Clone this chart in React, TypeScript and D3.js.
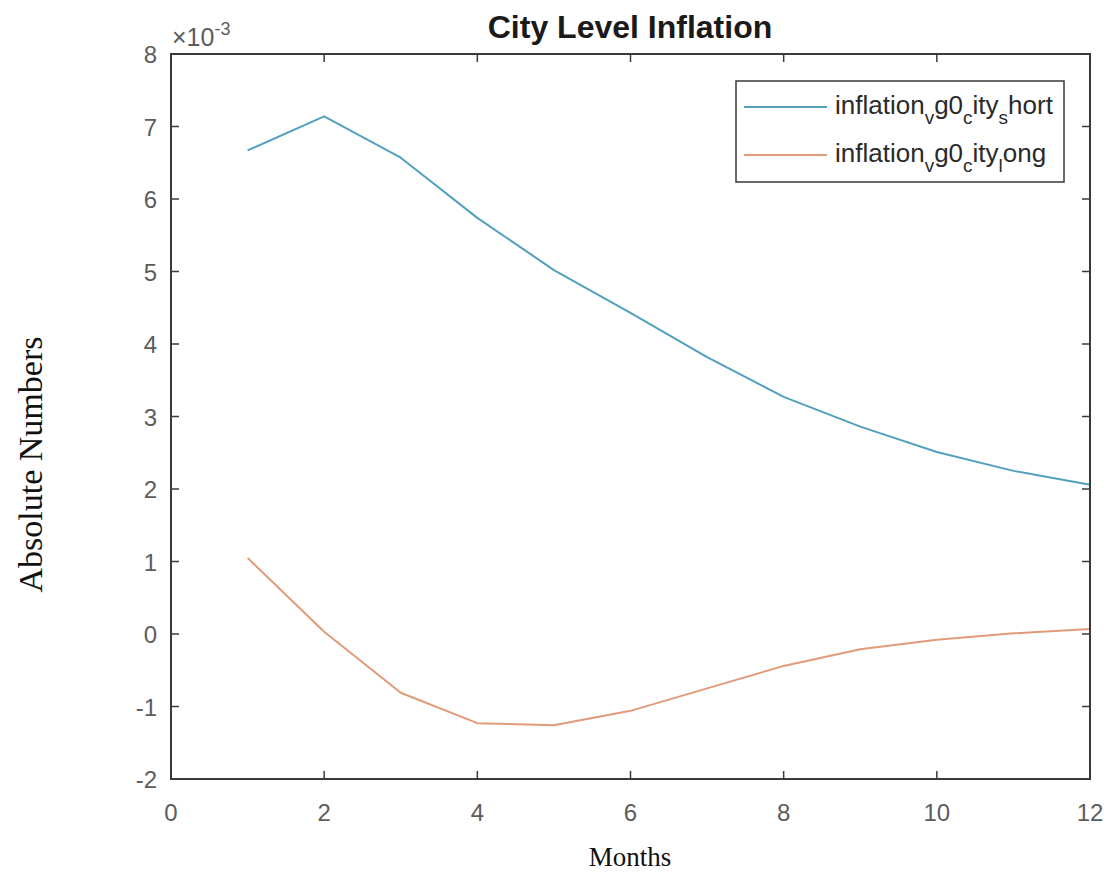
import React from "react";
import * as d3 from "d3";

const months = [1, 2, 3, 4, 5, 6, 7, 8, 9, 10, 11, 12];
const shortValues = [6.67, 7.14, 6.57, 5.74, 5.02, 4.43, 3.82, 3.27, 2.86, 2.51, 2.25, 2.06].map((v) => v / 1000);
const longValues = [1.05, 0.03, -0.81, -1.23, -1.26, -1.06, -0.75, -0.44, -0.21, -0.08, 0.01, 0.07].map((v) => v / 1000);
const xTicks = [0, 2, 4, 6, 8, 10, 12];
const yTicks = [-2, -1, 0, 1, 2, 3, 4, 5, 6, 7, 8].map((v) => v / 1000);

const seriesNames = ["short", "long"];
const seriesColors = ["#52a0bd", "#e19a7a"];

const W = 1116;
const H = 875;
const M = { left: 171, right: 1090, top: 54, bottom: 779 };

export default function App() {
  const x = d3.scaleLinear().domain([0, 12]).range([M.left, M.right]);
  const y = d3.scaleLinear().domain([-0.002, 0.008]).range([M.bottom, M.top]);
  const line = d3
    .line<number>()
    .x((_, i) => x(months[i]))
    .y((d) => y(d));
  const series = [shortValues, longValues];
  const tickLen = 8;
  const axisColor = "#3a3a3a";
  const labelColor = "#5c5c5c";
  const sans = "'Liberation Sans', Arial, sans-serif";
  const serif = "'Liberation Serif', 'Times New Roman', serif";

  const legendX = 736;
  const legendY = 81;
  const legendW = 328;
  const legendH = 101;
  const legendRows = [107, 155];
  const subs = [
    ["v", "c", "s", "hort"],
    ["v", "c", "l", "ong"],
  ];

  return (
    <svg
      width={W}
      height={H}
      style={{ position: "absolute", left: 0, top: 0, background: "#fff" }}
    >
      <rect x={0} y={0} width={W} height={H} fill="#fff" />
      {/* title */}
      <text
        x={630}
        y={38}
        textAnchor="middle"
        fontFamily={sans}
        fontWeight="bold"
        fontSize={32}
        fill="#1a1a1a"
      >
        City Level Inflation
      </text>
      {/* exponent */}
      <text x={172} y={46} fontFamily={sans} fontSize={25} fill={labelColor}>
        ×10
        <tspan dy={-11} fontSize={18}>
          -3
        </tspan>
      </text>

      {/* lines */}
      {series.map((s, i) => (
        <path
          key={seriesNames[i]}
          d={line(s) || ""}
          fill="none"
          stroke={seriesColors[i]}
          strokeWidth={2}
          strokeLinejoin="round"
        />
      ))}

      {/* axes box */}
      <rect
        x={M.left}
        y={M.top}
        width={M.right - M.left}
        height={M.bottom - M.top}
        fill="none"
        stroke={axisColor}
        strokeWidth={2}
      />
      {xTicks.map((t) => (
        <g key={"x" + t}>
          <line x1={x(t)} x2={x(t)} y1={M.bottom} y2={M.bottom - tickLen} stroke={axisColor} strokeWidth={1.5} />
          <line x1={x(t)} x2={x(t)} y1={M.top} y2={M.top + tickLen} stroke={axisColor} strokeWidth={1.5} />
          <text
            x={x(t)}
            y={M.bottom + 42}
            textAnchor="middle"
            fontFamily={sans}
            fontSize={24}
            fill={labelColor}
          >
            {t}
          </text>
        </g>
      ))}
      {yTicks.map((t) => (
        <g key={"y" + t}>
          <line x1={M.left} x2={M.left + tickLen} y1={y(t)} y2={y(t)} stroke={axisColor} strokeWidth={1.5} />
          <line x1={M.right} x2={M.right - tickLen} y1={y(t)} y2={y(t)} stroke={axisColor} strokeWidth={1.5} />
          <text
            x={M.left - 14}
            y={y(t) + 9}
            textAnchor="end"
            fontFamily={sans}
            fontSize={24}
            fill={labelColor}
          >
            {Math.round(t * 1000)}
          </text>
        </g>
      ))}

      {/* axis labels */}
      <text
        x={630}
        y={866}
        textAnchor="middle"
        fontFamily={serif}
        fontSize={27}
        fill="#111"
      >
        Months
      </text>
      <text
        transform={`translate(42, ${(M.top + M.bottom) / 2 + 48}) rotate(-90)`}
        textAnchor="middle"
        fontFamily={serif}
        fontSize={34}
        fill="#111"
      >
        Absolute Numbers
      </text>

      {/* legend */}
      <rect
        x={legendX}
        y={legendY}
        width={legendW}
        height={legendH}
        fill="#fff"
        stroke={axisColor}
        strokeWidth={1.5}
      />
      {seriesNames.map((n, i) => (
        <g key={"lg" + n}>
          <line
            x1={744}
            x2={827}
            y1={legendRows[i]}
            y2={legendRows[i]}
            stroke={seriesColors[i]}
            strokeWidth={2}
          />
          <text x={835} y={legendRows[i] + 7} fontFamily={sans} fontSize={26} fill="#2a2a2a">
            inflation
            <tspan dy={10} fontSize={19}>
              {subs[i][0]}
            </tspan>
            <tspan dy={-10}>g0</tspan>
            <tspan dy={10} fontSize={19}>
              {subs[i][1]}
            </tspan>
            <tspan dy={-10}>ity</tspan>
            <tspan dy={10} fontSize={19}>
              {subs[i][2]}
            </tspan>
            <tspan dy={-10}>{subs[i][3]}</tspan>
          </text>
        </g>
      ))}
    </svg>
  );
}
